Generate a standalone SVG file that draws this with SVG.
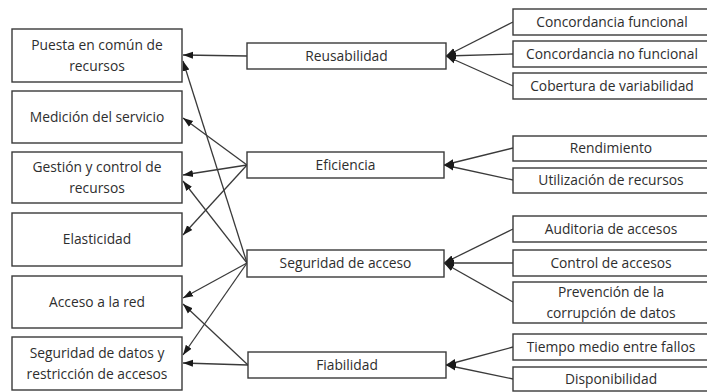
<svg xmlns="http://www.w3.org/2000/svg" width="707" height="392" viewBox="0 0 707 392">
  <style>
    .box { fill: #ffffff; stroke: #3a3a3a; stroke-width: 1.4; }
    .lbl { font-family: "Open Sans", "Liberation Sans", sans-serif; font-size: 13.8px; fill: #2e2e2e; text-anchor: middle; }
    .edge { fill: none; stroke: #3a3a3a; stroke-width: 1.3; marker-end: url(#head); }
  </style>
  <defs>
    <marker id="head" markerUnits="userSpaceOnUse" markerWidth="11" markerHeight="9" refX="10" refY="4.5" orient="auto">
      <path d="M0,1 L10,4.5 L0,8 Z" fill="#1a1a1a"/>
    </marker>
  </defs>
  <rect width="707" height="392" fill="#ffffff"/>

  <!-- connectors -->
  <g id="connectors">
    <!-- sub-characteristics feeding the middle column -->
    <line class="edge" x1="513" y1="22" x2="446" y2="56"/>
    <line class="edge" x1="513" y1="54" x2="446" y2="56"/>
    <line class="edge" x1="513" y1="86" x2="446" y2="56"/>
    <line class="edge" x1="513" y1="148" x2="444" y2="165"/>
    <line class="edge" x1="513" y1="180" x2="444" y2="165"/>
    <line class="edge" x1="513" y1="229" x2="444" y2="263"/>
    <line class="edge" x1="513" y1="263" x2="444" y2="263"/>
    <line class="edge" x1="513" y1="302" x2="444" y2="263"/>
    <line class="edge" x1="513" y1="347" x2="446" y2="365"/>
    <line class="edge" x1="513" y1="379" x2="446" y2="365"/>
    <!-- middle column feeding the left column -->
    <line class="edge" x1="247" y1="56" x2="183" y2="55"/>
    <line class="edge" x1="247" y1="165" x2="183" y2="118"/>
    <line class="edge" x1="247" y1="165" x2="183" y2="175"/>
    <line class="edge" x1="247" y1="165" x2="183" y2="235"/>
    <line class="edge" x1="247" y1="263" x2="183" y2="61"/>
    <line class="edge" x1="247" y1="263" x2="183" y2="181"/>
    <line class="edge" x1="247" y1="263" x2="183" y2="298"/>
    <line class="edge" x1="247" y1="263" x2="183" y2="355"/>
    <line class="edge" x1="248" y1="365" x2="183" y2="304"/>
    <line class="edge" x1="248" y1="365" x2="183" y2="363"/>
  </g>

  <!-- left column -->
  <g id="puesta"><rect class="box" x="12" y="29" width="170" height="53"/><text class="lbl" x="97" y="50">Puesta en común de</text><text class="lbl" x="97" y="71">recursos</text></g>
  <g id="medicion"><rect class="box" x="12" y="91" width="170" height="52"/><text class="lbl" x="97" y="122">Medición del servicio</text></g>
  <g id="gestion"><rect class="box" x="12" y="152" width="170" height="51"/><text class="lbl" x="97" y="172">Gestión y control de</text><text class="lbl" x="97" y="193">recursos</text></g>
  <g id="elasticidad"><rect class="box" x="12" y="213" width="170" height="53"/><text class="lbl" x="97" y="244">Elasticidad</text></g>
  <g id="acceso-red"><rect class="box" x="12" y="276" width="170" height="52"/><text class="lbl" x="97" y="307">Acceso a la red</text></g>
  <g id="seguridad-datos"><rect class="box" x="12" y="337" width="170" height="53"/><text class="lbl" x="97" y="358">Seguridad de datos y</text><text class="lbl" x="97" y="379">restricción de accesos</text></g>

  <!-- middle column -->
  <g id="reusabilidad"><rect class="box" x="247" y="43" width="199" height="26"/><text class="lbl" x="346.5" y="61">Reusabilidad</text></g>
  <g id="eficiencia"><rect class="box" x="247" y="152" width="197" height="26"/><text class="lbl" x="345.5" y="170">Eficiencia</text></g>
  <g id="seguridad-acceso"><rect class="box" x="247" y="250" width="197" height="27"/><text class="lbl" x="345.5" y="268">Seguridad de acceso</text></g>
  <g id="fiabilidad"><rect class="box" x="248" y="352" width="198" height="26"/><text class="lbl" x="347" y="370">Fiabilidad</text></g>

  <!-- right column -->
  <g id="concordancia-funcional"><rect class="box" x="513" y="9" width="200" height="26"/><text class="lbl" x="612" y="27">Concordancia funcional</text></g>
  <g id="concordancia-no-funcional"><rect class="box" x="513" y="41" width="200" height="26"/><text class="lbl" x="612" y="59">Concordancia no funcional</text></g>
  <g id="cobertura"><rect class="box" x="513" y="73" width="200" height="26"/><text class="lbl" x="612" y="91">Cobertura de variabilidad</text></g>
  <g id="rendimiento"><rect class="box" x="513" y="136" width="200" height="25"/><text class="lbl" x="611" y="153">Rendimiento</text></g>
  <g id="utilizacion"><rect class="box" x="513" y="168" width="200" height="25"/><text class="lbl" x="611" y="185">Utilización de recursos</text></g>
  <g id="auditoria"><rect class="box" x="513" y="216" width="200" height="26"/><text class="lbl" x="611" y="234">Auditoria de accesos</text></g>
  <g id="control-accesos"><rect class="box" x="513" y="250" width="200" height="26"/><text class="lbl" x="611" y="268">Control de accesos</text></g>
  <g id="prevencion"><rect class="box" x="513" y="282" width="200" height="41"/><text class="lbl" x="611" y="297">Prevención de la</text><text class="lbl" x="611" y="318">corrupción de datos</text></g>
  <g id="tiempo-medio"><rect class="box" x="513" y="334" width="200" height="26"/><text class="lbl" x="611" y="352">Tiempo medio entre fallos</text></g>
  <g id="disponibilidad"><rect class="box" x="513" y="367" width="200" height="24"/><text class="lbl" x="611" y="384">Disponibilidad</text></g>
</svg>
